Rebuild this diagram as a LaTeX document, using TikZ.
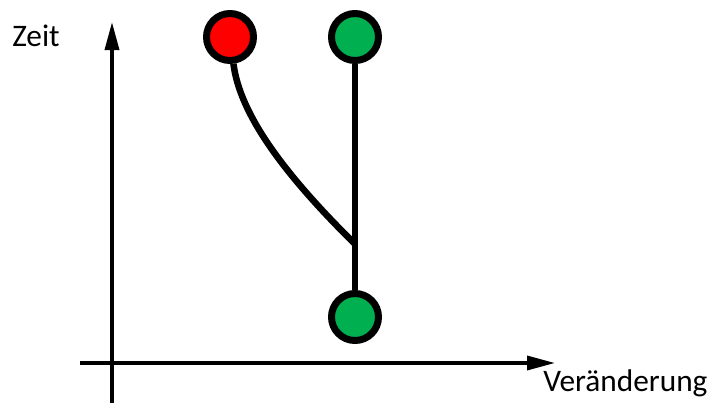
\documentclass[tikz,border=0pt]{standalone}
\usepackage{fontspec}
\setmainfont{Carlito}
\usetikzlibrary{arrows.meta}
\definecolor{signalred}{HTML}{FF0000}
\definecolor{signalgreen}{HTML}{00B050}

\begin{document}
\begin{tikzpicture}[x=0.75pt,y=-0.75pt,>={Triangle[length=21pt,width=10.5pt]},
    line join=round,axis@/.style={line width=2.6pt},
    track@/.style={line width=4.9pt},
    label@/.style={anchor=base west,inner sep=0pt,font=\fontsize{23.5pt}{28pt}\selectfont},
    signal@/.style={circle,draw,line width=5.25pt,inner sep=0pt,minimum size=35.25pt}]
    \useasboundingbox (0,0) rectangle (715,405);
    % The axes.
    \coordinate (ybot) at (112,403);
    \coordinate (ytop) at (112,22);
    \coordinate (xleft) at (80,363);
    \coordinate (xright) at (555,363);
    \draw[axis@,->] (ybot) -- (ytop);
    \draw[axis@,->] (xleft) -- (xright);
    \node[label@] (zeit) at (12,46) {Zeit};
    \node[label@] (change) at (543,391) {Veränderung};

    % The signals.
    \node[signal@,fill=signalred] (red) at (230,37) {};
    \node[signal@,fill=signalgreen] (greentop) at (355,37) {};
    \node[signal@,fill=signalgreen] (greenbot) at (355,317) {};
    \coordinate (fork) at (355,244);

    % The tracks between them.
    \draw[track@] (greentop) -- (greenbot);
    \draw[track@] (red) .. controls (240,115) and (285,175) .. (fork);
  \end{tikzpicture}
\end{document}
